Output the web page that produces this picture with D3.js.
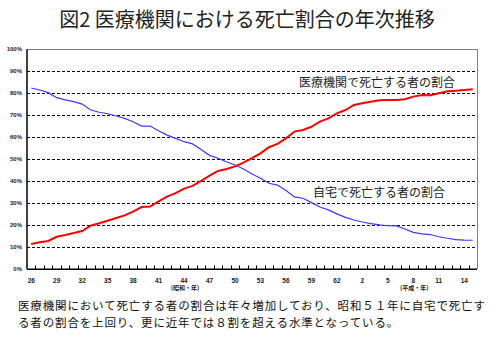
<!DOCTYPE html>
<html><head><meta charset="utf-8">
<script src="https://cdn.jsdelivr.net/npm/d3@7"></script>
<style>body{margin:0;background:#fff}svg{display:block}</style>
</head><body>
<svg id="c" width="493" height="338"></svg>
<script>
const years = [1951,1952,1953,1954,1955,1956,1957,1958,1959,1960,1961,1962,1963,1964,1965,1966,1967,1968,1969,1970,1971,1972,1973,1974,1975,1976,1977,1978,1979,1980,1981,1982,1983,1984,1985,1986,1987,1988,1989,1990,1991,1992,1993,1994,1995,1996,1997,1998,1999,2000,2001,2002,2003];
const hospital = [11.5,12.3,12.9,14.8,15.6,16.5,17.4,19.8,20.9,22.1,23.3,24.5,26.2,28.3,28.5,30.9,33.0,34.6,36.7,37.9,40.2,42.6,44.7,45.6,46.8,48.5,50.5,52.7,55.5,57.0,59.5,62.6,63.3,64.8,67.1,68.6,70.9,72.4,74.7,75.5,76.2,76.8,77.0,77.0,77.3,78.5,79.2,79.1,80.0,80.9,81.2,81.5,81.8];
const home = [82.4,81.5,80.3,78.0,77.0,76.2,75.1,72.4,71.4,70.7,69.7,68.6,67.1,65.1,65.1,63.0,61.0,59.5,58.0,57.0,54.5,51.8,50.5,48.9,47.4,45.6,43.3,41.4,39.1,38.3,35.8,32.9,32.3,30.3,28.3,27.0,25.2,23.6,22.4,21.5,20.8,20.2,19.8,19.7,18.3,16.8,16.1,15.8,14.8,14.1,13.5,13.3,13.2];
const tickYears = [1951,1954,1957,1960,1963,1966,1969,1972,1975,1978,1981,1984,1987,1990,1993,1996,1999,2002];
const tickLabels = ["26","29","32","35","38","41","44","47","50","53","56","59","62","2","5","8","11","14"];
const yTicks = [0,10,20,30,40,50,60,70,80,90,100];
const title = "図2 医療機関における死亡割合の年次推移";
const seriesNames = ["医療機関で死亡する者の割合","自宅で死亡する者の割合"];
const eraLabels = [{year:1969,text:"(昭和・年)"},{year:1996,text:"(平成・年)"}];
const footer = ["医療機関において死亡する者の割合は年々増加しており、昭和５１年に自宅で死亡す","る者の割合を上回り、更に近年では８割を超える水準となっている。"];

const svg = d3.select("#c");
const x = d3.scaleBand().domain(years).range([27,477]);
const y = d3.scaleLinear().domain([0,100]).range([269.3,49.3]);
const cx = d => x(d) + x.bandwidth()/2;
const jp = "'Noto Sans CJK JP', sans-serif";

svg.append("text").attr("x",247).attr("y",27).attr("text-anchor","middle")
  .style("font-family",jp).style("font-size","20px").attr("fill","#222").text(title);

// gridlines
svg.append("g").selectAll("line").data(yTicks.filter(v=>v>0&&v<100)).join("line")
  .attr("x1",27).attr("x2",477).attr("y1",d=>y(d)).attr("y2",d=>y(d))
  .attr("stroke","#000").attr("stroke-width",1).attr("stroke-dasharray","3,2")
  .attr("shape-rendering","crispEdges");
// frame top/right
svg.append("line").attr("x1",27).attr("x2",477).attr("y1",y(100)).attr("y2",y(100))
  .attr("stroke","#808080").attr("shape-rendering","crispEdges");
svg.append("line").attr("x1",477).attr("x2",477).attr("y1",y(100)).attr("y2",y(0))
  .attr("stroke","#808080").attr("shape-rendering","crispEdges");
// axes
svg.append("line").attr("x1",27).attr("x2",27).attr("y1",y(100)).attr("y2",y(0))
  .attr("stroke","#000").attr("stroke-width",1.5);
svg.append("line").attr("x1",27).attr("x2",477).attr("y1",y(0)).attr("y2",y(0))
  .attr("stroke","#000").attr("stroke-width",1.5);
// x ticks at band boundaries
svg.append("g").selectAll("line").data(years.slice(1)).join("line")
  .attr("x1",d=>Math.round(x(d))+0.5).attr("x2",d=>Math.round(x(d))+0.5)
  .attr("y1",y(0)).attr("y2",y(0)-4).attr("stroke","#000");

// y labels
svg.append("g").selectAll("text").data(yTicks).join("text")
  .attr("x",22).attr("y",d=>y(d)+2).attr("text-anchor","end")
  .style("font-family","'Liberation Sans', Arial, sans-serif").style("font-size","6px").style("font-weight","bold")
  .attr("fill","#222").text(d=>d+"%");
// x labels
svg.append("g").selectAll("text").data(tickYears).join("text")
  .attr("x",d=>cx(d)).attr("y",283).attr("text-anchor","middle")
  .style("font-family","'Liberation Sans', Arial, sans-serif").style("font-size","6.5px").style("font-weight","bold")
  .attr("fill","#222").text((d,i)=>tickLabels[i]);
svg.append("g").selectAll("text").data(eraLabels).join("text")
  .attr("x",d=>cx(d.year)+1).attr("y",290).attr("text-anchor","middle")
  .style("font-family",jp).style("font-size","6px").style("font-weight","bold")
  .attr("fill","#222").text(d=>d.text);

// lines
const line = d3.line().x((d,i)=>cx(years[i])).y(d=>y(d));
svg.append("path").datum(home).attr("d",line).attr("fill","none")
  .attr("stroke","#3a3aff").attr("stroke-width",1.2);
svg.append("path").datum(hospital).attr("d",line).attr("fill","none")
  .attr("stroke","#ff0000").attr("stroke-width",2);

// series labels
svg.append("text").attr("x",299).attr("y",87).style("font-family",jp).style("font-size","12px")
  .attr("fill","#222").text(seriesNames[0]);
svg.append("text").attr("x",313).attr("y",197).style("font-family",jp).style("font-size","12px")
  .attr("fill","#222").text(seriesNames[1]);

// footer
svg.append("g").selectAll("text").data(footer).join("text")
  .attr("x",18).attr("y",(d,i)=>310+i*16.9).style("font-family",jp).style("font-size","11.5px")
  .style("letter-spacing","0.85px")
  .attr("fill","#111").text(d=>d);
</script>
</body></html>
